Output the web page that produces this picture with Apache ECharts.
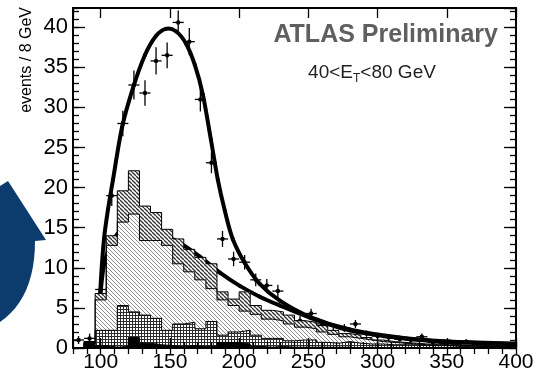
<!DOCTYPE html>
<html>
<head>
<meta charset="utf-8">
<script src="https://cdn.jsdelivr.net/npm/echarts@6/dist/echarts.min.js"></script>
<style>
html,body{margin:0;padding:0;background:#fff}
#chart{width:543px;height:373px}
</style>
</head>
<body>
<div id="chart"></div>
<script>
// Invariant-mass spectrum, 8 GeV bins from 80 to 400 GeV
const binWidth = 8;
const binLow = [80,88,96,104,112,120,128,136,144,152,160,168,176,184,192,200,208,216,224,232,
                240,248,256,264,272,280,288,296,304,312,320,328,336,344,352,360,368,376,384,392];

// Stacked simulation histograms (cumulative heights, events / 8 GeV)
const simTotal = [0,0.8,6.8,14.0,19.6,22.1,17.7,16.9,14.8,13.6,12.3,11.3,10.5,7.0,6.1,7.0,5.3,4.7,4.5,4.1,
                  3.4,3.2,2.8,2.2,1.8,1.6,1.3,1.0,0.8,0.7,0.6,0.5,0.5,0.4,0.4,0.3,0.3,0.3,0.2,0.2];
const simBackground = [0,0.6,6.0,12.8,15.7,16.7,13.4,13.4,12.8,10.5,9.5,8.5,7.4,6.0,5.3,4.6,4.2,3.6,3.4,3.0,
                       2.6,2.4,2.0,1.7,1.4,1.2,1.0,0.8,0.7,0.6,0.5,0.4,0.4,0.3,0.3,0.3,0.2,0.2,0.2,0.1];
const simMultijet = [0,0.5,2.2,2.2,5.3,4.5,4.1,3.7,2.2,3.0,3.2,2.4,3.3,1.6,2.0,2.2,1.6,1.2,1.2,0.9,
                     1.0,1.0,0.7,0.6,0.8,0.6,0.5,0.5,0.4,0.4,0.4,0.3,0.3,0.3,0.2,0.2,0.2,0.2,0.1,0.1];
const simOther = [0,0.8,0.3,0.1,0.2,1.3,0.6,0.4,0.3,0.2,0.3,0.2,0.2,0.7,0.7,0.5,0.2,0.1,0.2,0.1,
                  0.1,0.1,0.1,0.1,0.1,0,0.1,0,0,0,0,0,0,0,0,0,0,0,0,0];

// Data: bin centres, counts and uncertainties
const dataCenter = [84,92,100,108,116,124,132,140,148,156,164,172,180,188,196,204,212,220,228,236,
                    244,252,260,268,276,284,292,300,308,316,324,332,340,348,356,364,372,380,388,396];
const dataValue = [1.0,1.2,7.3,19.0,28.0,32.8,31.8,35.8,36.5,40.6,38.2,31.0,23.1,13.6,11.1,10.7,8.5,7.8,7.1,3.4,
                   3.4,4.3,3.0,2.0,2.5,3.0,1.8,1.5,1.3,1.1,1.0,1.4,0.7,0.6,0.5,0.8,0.4,0.3,0.3,0.3];
const dataError = [0.5,0.6,1.0,1.3,1.6,1.8,1.6,1.7,1.6,1.5,1.7,1.5,1.3,1.0,0.9,0.9,0.8,0.8,0.8,0.6,
                   0.6,0.6,0.5,0.5,0.5,0.5,0.4,0.4,0.4,0.3,0.3,0.4,0.3,0.3,0.3,0.3,0.2,0.2,0.2,0.2];

// Fitted shapes: signal + background, and background only
const fitTotalX = [97.7,98.8,100.2,102.4,105.3,108.9,115.4,123.3,131.9,139.9,147.1,154.3,161.5,168.0,173.8,179.6,184.6,189.7,195.4,204.1,214.9,229.4,251.0,279.9,315.9,352.0,400];
const fitTotalY = [0,3.7,8.6,13.6,17.3,21.0,27.5,32.4,36.5,38.9,39.8,39.5,38.0,35.3,31.6,26.0,21.0,17.1,13.6,10.6,8.0,5.9,3.9,2.3,1.3,0.8,0.55];
const fitBkgX = [97.7,98.8,100.2,102.4,105.3,110.3,116.8,123.3,131.9,142.8,157.2,171.6,186.1,200.5,214.9,229.4,251.0,279.9,315.9,352.0,400];
const fitBkgY = [0,3.9,7.4,10.4,12.1,13.8,15.0,15.3,15.1,14.3,13.1,11.4,9.4,7.75,6.4,5.3,3.8,2.2,1.25,0.75,0.5];

const FONT = 'Liberation Sans, Arial, Helvetica, sans-serif';

// Fill patterns
function hatchPattern(step, width, color) {
  const c = document.createElement('canvas');
  c.width = step; c.height = step;
  const g = c.getContext('2d');
  g.fillStyle = '#fff'; g.fillRect(0, 0, step, step);
  g.strokeStyle = color; g.lineWidth = width;
  for (let k = -1; k <= 1; k++) {
    g.beginPath(); g.moveTo(k * step, 0); g.lineTo(k * step + step, step); g.stroke();
  }
  return {image: c, repeat: 'repeat'};
}
function meshPattern() {
  const c = document.createElement('canvas');
  c.width = 3; c.height = 3;
  const g = c.getContext('2d');
  g.fillStyle = '#fff'; g.fillRect(0, 0, 3, 3);
  g.fillStyle = '#2e2e2e';
  g.fillRect(0, 0, 3, 1); g.fillRect(0, 0, 1, 3);
  return {image: c, repeat: 'repeat'};
}

function stepPoints(values) {
  const pts = [];
  values.forEach((v, i) => {
    pts.push([binLow[i], v]);
    pts.push([binLow[i] + binWidth, v]);
  });
  return pts;
}
function histSeries(values, fill) {
  return {
    type: 'line', data: stepPoints(values), symbol: 'none', silent: true,
    lineStyle: {color: '#000', width: 1},
    areaStyle: {color: fill, opacity: 1}
  };
}

// Fit curve: each item draws one Catmull-Rom segment between neighbouring samples
function fitSeries(xs, ys) {
  const n = xs.length;
  return {
    type: 'custom', silent: true, clip: true,
    data: xs.map((x, i) => [x, ys[i], i]),
    encode: {x: 0, y: 1},
    renderItem(params, api) {
      const i = api.value(2);
      if (i >= n - 1) return null;
      const P = k => api.coord([xs[Math.max(0, Math.min(n - 1, k))], ys[Math.max(0, Math.min(n - 1, k))]]);
      const p0 = P(i - 1), p1 = P(i), p2 = P(i + 1), p3 = P(i + 2);
      return {
        type: 'bezierCurve',
        shape: {
          x1: p1[0], y1: p1[1], x2: p2[0], y2: p2[1],
          cpx1: p1[0] + (p2[0] - p0[0]) / 6, cpy1: p1[1] + (p2[1] - p0[1]) / 6,
          cpx2: p2[0] - (p3[0] - p1[0]) / 6, cpy2: p2[1] - (p3[1] - p1[1]) / 6
        },
        style: {stroke: '#000', lineWidth: 4, fill: null, lineCap: 'round'}
      };
    }
  };
}

const tickStyle = {color: '#000', width: 1.3};
function majorX(pos, labels) {
  return {
    type: 'value', min: 80, max: 400, position: pos, z: 10,
    axisLine: {show: true, onZero: false, lineStyle: {color: '#000', width: 2}},
    axisTick: {show: true, inside: true, length: 10, lineStyle: tickStyle},
    axisLabel: {show: labels, showMinLabel: false, fontSize: 21, color: '#000', fontFamily: FONT, margin: 4},
    splitLine: {show: false}
  };
}
function minorX(pos) {
  return {
    type: 'value', min: 80, max: 400, interval: 10, position: pos, z: 10,
    axisLine: {show: false},
    axisTick: {show: true, inside: true, length: 6, lineStyle: tickStyle},
    axisLabel: {show: false}, splitLine: {show: false}
  };
}
function majorY(pos, labels) {
  return {
    type: 'value', min: 0, max: 42.4, interval: 5, position: pos, z: 10,
    axisLine: {show: true, onZero: false, lineStyle: {color: '#000', width: 2}},
    axisTick: {show: true, inside: true, length: 12, lineStyle: tickStyle},
    axisLabel: {show: labels, showMaxLabel: false, fontSize: 22, color: '#000', fontFamily: FONT, margin: 5},
    splitLine: {show: false}
  };
}
function minorY(pos) {
  return {
    type: 'value', min: 0, max: 42.4, interval: 1, position: pos, z: 10,
    axisLine: {show: false},
    axisTick: {show: true, inside: true, length: 6, lineStyle: tickStyle},
    axisLabel: {show: false}, splitLine: {show: false}
  };
}

// Curved arrow outline: straight head edges, quadratic tail edge
function arrowOutline() {
  const pts = [[0, 186], [8, 181], [46, 240], [35, 241]];
  const p0 = [35, 241], c = [35, 298], p1 = [0, 322];
  for (let i = 1; i <= 12; i++) {
    const t = i / 12, u = 1 - t;
    pts.push([u * u * p0[0] + 2 * u * t * c[0] + t * t * p1[0],
              u * u * p0[1] + 2 * u * t * c[1] + t * t * p1[1]]);
  }
  return pts;
}

const chart = echarts.init(document.getElementById('chart'), null, {renderer: 'canvas'});
chart.setOption({
  animation: false,
  backgroundColor: '#fff',
  grid: {left: 73, right: 27, top: 8, bottom: 23.5, containLabel: false},
  xAxis: [majorX('bottom', true), minorX('bottom'), majorX('top', false), minorX('top')],
  yAxis: [majorY('left', true), minorY('left'), majorY('right', false), minorY('right')],
  series: [
    histSeries(simTotal, hatchPattern(4, 1.3, '#333')),
    histSeries(simBackground, hatchPattern(4, 1.0, '#8c8c8c')),
    histSeries(simMultijet, meshPattern()),
    histSeries(simOther, '#000'),
    fitSeries(fitBkgX, fitBkgY),
    fitSeries(fitTotalX, fitTotalY),
    {
      type: 'custom', silent: true, clip: true,
      data: dataValue.map((v, i) => [dataCenter[i], v, dataError[i]]),
      encode: {x: 0, y: 1},
      renderItem(params, api) {
        const x = api.value(0), y = api.value(1), e = api.value(2);
        const c = api.coord([x, y]);
        const l = api.coord([x - binWidth / 2, y]);
        const r = api.coord([x + binWidth / 2, y]);
        const t = api.coord([x, y + e]);
        const b = api.coord([x, Math.max(0, y - e)]);
        return {type: 'group', children: [
          {type: 'line', shape: {x1: l[0], y1: c[1], x2: r[0], y2: c[1]}, style: {stroke: '#000', lineWidth: 1.3}},
          {type: 'line', shape: {x1: c[0], y1: t[1], x2: c[0], y2: b[1]}, style: {stroke: '#000', lineWidth: 1.3}},
          {type: 'circle', shape: {cx: c[0], cy: c[1], r: 2.2}, style: {fill: '#000'}}
        ]};
      }
    }
  ],
  graphic: [
    {
      type: 'polygon', z: 1,
      shape: {points: arrowOutline()},
      style: {fill: '#0c3c6e'}
    },
    {
      type: 'text', x: 27, y: 7, rotation: Math.PI / 2,
      style: {text: 'events / 8 GeV', font: '16px ' + FONT, fill: '#000', align: 'right', verticalAlign: 'middle'}
    },
    {
      type: 'text', x: 498, y: 35,
      style: {text: 'ATLAS Preliminary', font: 'bold 25px ' + FONT, fill: '#5f5f5f', align: 'right', verticalAlign: 'middle'}
    },
    {
      type: 'text', x: 372, y: 73,
      style: {
        text: '{a|40<E}{s|T}{a|<80 GeV}', align: 'center', verticalAlign: 'middle',
        rich: {
          a: {fontSize: 19, fontFamily: FONT, fill: '#222'},
          s: {fontSize: 12, fontFamily: FONT, fill: '#222', padding: [11, 0, 0, 0]}
        }
      }
    }
  ]
});
</script>
</body>
</html>
